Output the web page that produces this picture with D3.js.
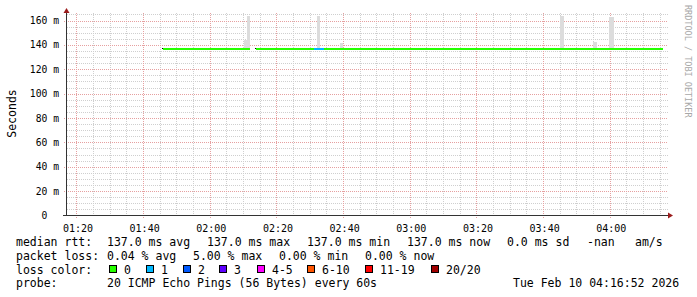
<!DOCTYPE html>
<html>
<head>
<meta charset="utf-8">
<script src="https://cdn.jsdelivr.net/npm/d3@7"></script>
<style>
  body { margin: 0; background: #fff; }
  svg { display: block; font-family: "DejaVu Sans Mono", monospace; }
</style>
</head>
<body>
<svg id="chart" width="697" height="297"></svg>
<script>
const day = "2026-02-10 ";
const windowStart = "01:16:52";
const windowEnd = "04:16:52";

// median rtt, one steady run per segment (ms)
const medianStart = ["01:45:40", "02:13:34"];
const medianEnd = ["02:11:46", "04:15:40"];
const medianMs = [137.0, 137.0];

// stretches with lost pings (count out of 20)
const lossStart = ["02:30:58"];
const lossEnd = ["02:34:00"];
const lossPings = [1];

// smoke: spread of the 20 pings where it rises above the median
const smokeStart = ["02:09:58", "02:10:52", "02:31:52", "02:38:46", "03:44:46", "03:54:40", "03:59:28"];
const smokeEnd = ["02:11:46", "02:11:46", "02:32:46", "02:39:40", "03:46:00", "03:55:52", "04:01:00"];
const smokeMin = [137, 137, 137, 137, 137, 137, 137];
const smokeMax = [144, 164, 164, 141.5, 164, 142.5, 163];

const yTicks = [0, 20, 40, 60, 80, 100, 120, 140, 160];

const lossLabels = ["0", "1", "2", "3", "4-5", "6-10", "11-19", "20/20"];
const lossUpper = [0, 1, 2, 3, 5, 10, 19, 20];
const lossColors = ["#26ff00", "#00b8ff", "#0059ff", "#5e00ff", "#ff00ff", "#ff5500", "#ff0000", "#a10000"];

const rttStats = ["137.0 ms avg", "137.0 ms max", "137.0 ms min", "137.0 ms now", "0.0 ms sd", "-nan", "am/s"];
const lossStats = ["0.04 % avg", "5.00 % max", "0.00 % min", "0.00 % now"];
const probeText = "20 ICMP Echo Pings (56 Bytes) every 60s";
const stampText = "Tue Feb 10 04:16:52 2026";

// layout
const plot = { left: 67, right: 667, top: 13.2, bottom: 215.5 };
const rttX = [107, 207, 307, 407, 507, 587, 635];
const lossX = [107, 193, 279, 365];
const boxX = [109, 146, 183, 219, 257, 307, 365, 431];

const parse = d3.timeParse("%Y-%m-%d %H:%M:%S");
const t = (s) => parse(day + s);
const lossColor = (n) => lossColors[lossUpper.findIndex((u) => n <= u)];

const svg = d3.select("#chart");

const x = d3.scaleTime()
    .domain([t(windowStart), t(windowEnd)])
    .range([plot.left, plot.right]);
const y = d3.scaleLinear()
    .domain([0, 166])
    .range([plot.bottom, plot.top]);

// grid
const grid = svg.append("g").attr("shape-rendering", "crispEdges");
const minorY = d3.range(5, 166, 5).filter((v) => v % 20 !== 0);
const minorX = x.ticks(d3.timeMinute.every(5)).filter((d) => d.getMinutes() % 20 !== 0);
const majorX = x.ticks(d3.timeMinute.every(20));

grid.append("g")
    .selectAll("line")
    .data(minorY)
    .join("line")
    .attr("x1", plot.left).attr("x2", plot.right + 1)
    .attr("y1", (d) => Math.round(y(d)) + 0.5).attr("y2", (d) => Math.round(y(d)) + 0.5)
    .attr("stroke", "#cfcfcf").attr("stroke-dasharray", "1,1");
grid.append("g")
    .selectAll("line")
    .data(minorX)
    .join("line")
    .attr("x1", (d) => Math.round(x(d)) - 0.5).attr("x2", (d) => Math.round(x(d)) - 0.5)
    .attr("y1", plot.top).attr("y2", plot.bottom)
    .attr("stroke", "#cfcfcf").attr("stroke-dasharray", "1,1");
grid.append("g")
    .selectAll("line")
    .data(yTicks.filter((d) => d > 0))
    .join("line")
    .attr("x1", plot.left - 3).attr("x2", plot.right + 1)
    .attr("y1", (d) => Math.round(y(d)) + 0.5).attr("y2", (d) => Math.round(y(d)) + 0.5)
    .attr("stroke", "#e6a0a0").attr("stroke-dasharray", "1,1");
grid.append("g")
    .selectAll("line")
    .data(majorX)
    .join("line")
    .attr("x1", (d) => Math.round(x(d)) - 0.5).attr("x2", (d) => Math.round(x(d)) - 0.5)
    .attr("y1", plot.top).attr("y2", plot.bottom + 3)
    .attr("stroke", "#e6a0a0").attr("stroke-dasharray", "1,1");

// smoke
svg.append("g")
    .attr("shape-rendering", "crispEdges")
    .selectAll("rect")
    .data(smokeStart.map((s, i) => ({ s: t(s), e: t(smokeEnd[i]), lo: smokeMin[i], hi: smokeMax[i] })))
    .join("rect")
    .attr("x", (d) => x(d.s))
    .attr("y", (d) => y(d.hi))
    .attr("width", (d) => x(d.e) - x(d.s))
    .attr("height", (d) => y(d.lo) - y(d.hi))
    .attr("fill", "#dcdcdc");

// median line, coloured by loss
const runs = medianStart.map((s, i) => ({ s: t(s), e: t(medianEnd[i]), v: medianMs[i] }));
const med = svg.append("g").attr("shape-rendering", "crispEdges");
med.selectAll("line.run")
    .data(runs)
    .join("line")
    .attr("class", "run")
    .attr("x1", (d) => x(d.s)).attr("x2", (d) => x(d.e))
    .attr("y1", (d) => y(d.v)).attr("y2", (d) => y(d.v))
    .attr("stroke", lossColor(0)).attr("stroke-width", 2);
med.selectAll("line.start")
    .data(runs)
    .join("line")
    .attr("class", "start")
    .attr("x1", (d) => x(d.s) - 1).attr("x2", (d) => x(d.s))
    .attr("y1", (d) => y(d.v) - 0.5).attr("y2", (d) => y(d.v) - 0.5)
    .attr("stroke", "#000").attr("stroke-width", 1);
med.selectAll("line.loss")
    .data(lossStart.map((s, i) => ({ s: t(s), e: t(lossEnd[i]), n: lossPings[i] })))
    .join("line")
    .attr("class", "loss")
    .attr("x1", (d) => x(d.s)).attr("x2", (d) => x(d.e))
    .attr("y1", y(medianMs[1])).attr("y2", y(medianMs[1]))
    .attr("stroke", (d) => lossColor(d.n)).attr("stroke-width", 2);

// axes
const axisColor = "#333";
const arrowColor = "#9b1c1c";
const xAxis = svg.append("g")
    .attr("transform", `translate(0, ${plot.bottom})`)
    .call(d3.axisBottom(x)
        .ticks(d3.timeMinute.every(20))
        .tickFormat(d3.timeFormat("%H:%M"))
        .tickSize(0)
        .tickPadding(9));
xAxis.select(".domain").remove();
xAxis.selectAll("text")
    .attr("font-family", "DejaVu Sans Mono")
    .attr("font-size", "10px")
    .attr("fill", "#000");

const yAxis = svg.append("g")
    .attr("transform", `translate(59, 0)`)
    .call(d3.axisLeft(y)
        .tickValues(yTicks)
        .tickFormat((d) => (d === 0 ? "0  " : d + " m"))
        .tickSize(0)
        .tickPadding(0));
yAxis.select(".domain").remove();
yAxis.selectAll("text")
    .attr("font-family", "DejaVu Sans Mono")
    .attr("font-size", "9.7px")
    .attr("fill", "#000")
    .style("white-space", "pre");

svg.append("line")
    .attr("x1", plot.left - 0.5).attr("x2", plot.left - 0.5)
    .attr("y1", plot.bottom).attr("y2", 10)
    .attr("stroke", axisColor);
svg.append("line")
    .attr("x1", plot.left - 4).attr("x2", 670)
    .attr("y1", plot.bottom).attr("y2", plot.bottom)
    .attr("stroke", axisColor);
svg.append("path")
    .attr("d", `M${plot.left - 3.5},13 L${plot.left + 2.5},13 L${plot.left - 0.5},8 Z`)
    .attr("fill", arrowColor);
svg.append("path")
    .attr("d", `M668,${plot.bottom - 3} L668,${plot.bottom + 3} L673,${plot.bottom} Z`)
    .attr("fill", arrowColor);

// titles
svg.append("text")
    .attr("transform", "translate(16, 113.5) rotate(-90)")
    .attr("text-anchor", "middle")
    .attr("font-size", "11.5px")
    .text("Seconds");
svg.append("text")
    .attr("transform", "translate(685, 5) rotate(90)")
    .attr("font-size", "8.5px")
    .attr("fill", "#a8a8a8")
    .text("RRDTOOL / TOBI OETIKER");

// legend
const legend = svg.append("g").attr("font-size", "11.5px").attr("fill", "#000");
const rows = [245.5, 259.5, 273.5, 287];
legend.append("text").attr("x", 16).attr("y", rows[0]).text("median rtt:");
legend.append("text").attr("x", 16).attr("y", rows[1]).text("packet loss:");
legend.append("text").attr("x", 16).attr("y", rows[2]).text("loss color:");
legend.append("text").attr("x", 16).attr("y", rows[3]).text("probe:");

legend.selectAll("text.rtt")
    .data(rttStats)
    .join("text")
    .attr("class", "rtt")
    .attr("x", (d, i) => rttX[i]).attr("y", rows[0])
    .text((d) => d);
legend.selectAll("text.loss")
    .data(lossStats)
    .join("text")
    .attr("class", "loss")
    .attr("x", (d, i) => lossX[i]).attr("y", rows[1])
    .text((d) => d);
legend.selectAll("rect")
    .data(lossLabels)
    .join("rect")
    .attr("x", (d, i) => boxX[i] + 0.5).attr("y", 265.5)
    .attr("width", 7).attr("height", 7)
    .attr("fill", (d, i) => lossColors[i])
    .attr("stroke", "#000")
    .attr("shape-rendering", "crispEdges");
legend.selectAll("text.lc")
    .data(lossLabels)
    .join("text")
    .attr("class", "lc")
    .attr("x", (d, i) => boxX[i] + 15).attr("y", rows[2])
    .text((d) => d);
legend.append("text").attr("x", 107).attr("y", rows[3]).text(probeText);
legend.append("text").attr("x", 513).attr("y", rows[3]).text(stampText);
</script>
</body>
</html>
